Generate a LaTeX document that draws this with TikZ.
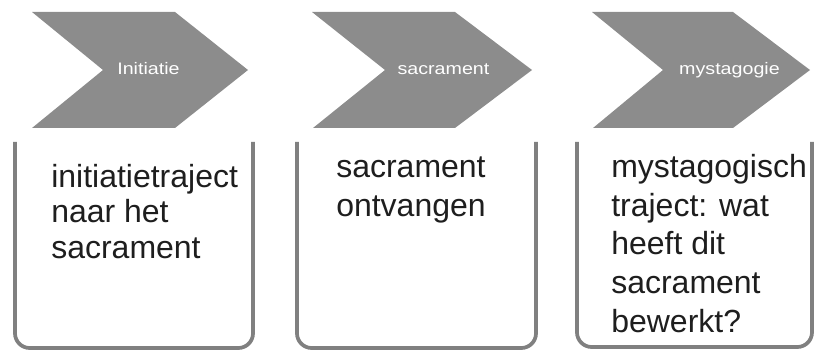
\documentclass[tikz,border=0pt]{standalone}
\usepackage{fontspec}
\setmainfont{Liberation Sans}
\definecolor{chev}{HTML}{8C8C8C}
\definecolor{boxline}{HTML}{808080}
\definecolor{txt}{HTML}{1E1E1E}
\begin{document}
\begin{tikzpicture}[x=0.75pt,y=-0.75pt,
  chevron/.style={fill=chev},
  ubox/.style={draw=boxline,line width=2.8pt,rounded corners=11pt},
  chevlabel/.style={text=white,inner sep=0pt,anchor=base,font=\fontsize{12.5}{14}\selectfont},
  boxtext/.style={text=txt,inner sep=0pt,anchor=base west}]
\useasboundingbox (0,0) rectangle (815,353);
% chevrons
\fill[chevron] (32,12) -- (175,12) -- (248,70) -- (175,128) -- (32,128) -- (103,70) -- cycle;
\fill[chevron] (312,12) -- (455,12) -- (532,70) -- (455,128) -- (313,128) -- (385,70) -- cycle;
\fill[chevron] (592,12) -- (733,12) -- (810,70) -- (733,128) -- (593,128) -- (663,70) -- cycle;
\node[chevlabel] (l1) at (148.5,75) {\scalebox{1.18}[1]{Initiatie}};
\node[chevlabel] (l2) at (443.5,75) {\scalebox{1.18}[1]{sacrament}};
\node[chevlabel] (l3) at (729.5,75) {\scalebox{1.18}[1]{mystagogie}};
% open boxes
\draw[ubox] (15,142) -- (15,348) -- (253,348) -- (253,142);
\draw[ubox] (297,142) -- (297,348) -- (536,348) -- (536,142);
\draw[ubox] (577,142) -- (577,347) -- (812,347) -- (812,142);
% texts
\node[boxtext] (t1) at (51,187) {\parbox[t]{220pt}{\fontsize{24}{27}\selectfont initiatietraject\\naar het\\sacrament}};
\node[boxtext] (t2) at (336,177) {\parbox[t]{200pt}{\fontsize{24}{29.25}\selectfont sacrament\\ontvangen}};
\node[boxtext] (t3) at (611,177) {\parbox[t]{200pt}{\fontsize{24}{29.25}\selectfont mystagogisch\\traject: wat\\heeft dit\\sacrament\\bewerkt?}};
\end{tikzpicture}
\end{document}
